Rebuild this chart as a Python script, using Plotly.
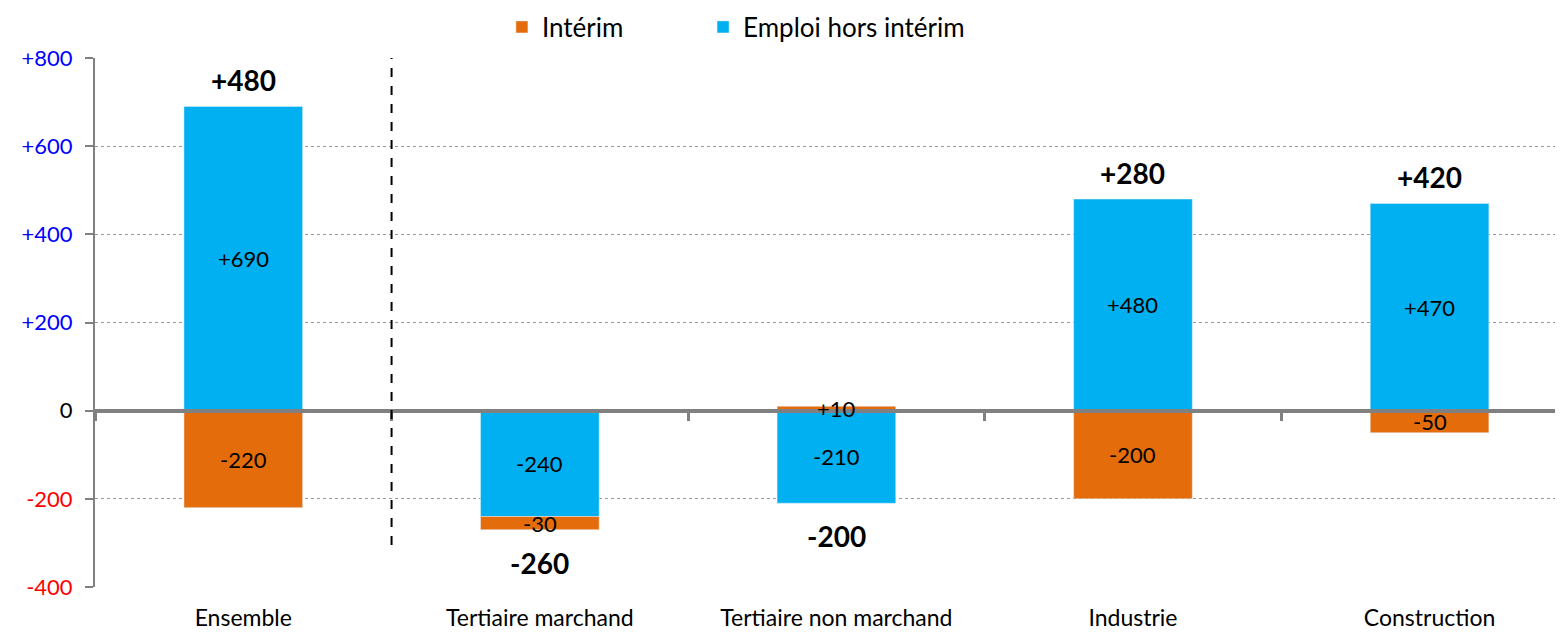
import plotly.graph_objects as go

categories = ["Ensemble", "Tertiaire marchand", "Tertiaire non marchand", "Industrie", "Construction"]
interim = [-220, -30, 10, -200, -50]
hors_interim = [690, -240, -210, 480, 470]
totals = [480, -260, -200, 280, 420]
y_ticks = [-400, -200, 0, 200, 400, 600, 800]

FONT = "Lato"
ORANGE = "#E46C0A"
BLUE = "#00B0F0"
GREY = "#808080"


def fmt(v):
    return f"{v:+d}" if v != 0 else "0"


def tick_txt(v):
    if v > 0:
        return f'<span style="color:#0000FF">{fmt(v)}</span>'
    if v < 0:
        return f'<span style="color:#FF0000">{v}</span>'
    return "0"


x = list(range(len(categories)))

fig = go.Figure()
# hors interim first so negatives stack next to zero
fig.add_trace(go.Bar(x=x, y=hors_interim, name="Emploi hors intérim", marker_color=BLUE,
                     width=0.4, legend="legend2"))
fig.add_trace(go.Bar(x=x, y=interim, name="Intérim", marker_color=ORANGE,
                     width=0.4, legend="legend"))
# empty trace so the zero-level axis (x2) gets drawn
fig.add_trace(go.Scatter(x=[None], y=[None], xaxis="x2", showlegend=False, hoverinfo="skip"))

lab_font = dict(family=FONT, size=22, color="black")
tot_font = dict(family=FONT, size=28, color="black")
for i in x:
    h, it = hors_interim[i], interim[i]
    # segment labels (as annotations so they sit above the zero line)
    fig.add_annotation(x=i, y=h / 2, text=fmt(h), showarrow=False, font=lab_font)
    base = h if (h < 0) == (it < 0) else 0
    fig.add_annotation(x=i, y=base + it / 2, text=fmt(it), showarrow=False, font=lab_font)
    # totals above / below stacks
    pos = sum(v for v in (h, it) if v > 0)
    neg = sum(v for v in (h, it) if v < 0)
    t = totals[i]
    if t > 0:
        fig.add_annotation(x=i, y=pos, text=f"<b>{fmt(t)}</b>", showarrow=False,
                           yanchor="bottom", yshift=7, font=tot_font)
    else:
        fig.add_annotation(x=i, y=neg, text=f"<b>{fmt(t)}</b>", showarrow=False,
                           yanchor="top", yshift=-14, font=tot_font)

# dashed separator
fig.add_shape(type="line", x0=0.5, x1=0.5, y0=-305, y1=852, xref="x", yref="y",
              line=dict(color="black", width=2, dash="dash"))

leg = dict(orientation="h", xanchor="left", y=1.0586, yanchor="middle",
           font=dict(family=FONT, size=26), itemwidth=30, bgcolor="rgba(0,0,0,0)")

# page body adds an 8px offset, so the figure is 8px smaller than the window
fig.update_layout(
    width=1555, height=624,
    barmode="relative",
    plot_bgcolor="white", paper_bgcolor="white",
    margin=dict(l=87, r=0, t=50, b=45, autoexpand=False),
    font=dict(family=FONT, size=22, color="black"),
    showlegend=True,
    legend=dict(leg, x=0.2772),
    legend2=dict(leg, x=0.4142),
    xaxis=dict(range=[-0.5, 4.45], tickvals=x, ticktext=categories,
               showgrid=False, zeroline=False, showline=False, ticks="",
               ticklabelstandoff=15, tickfont=dict(family=FONT, size=23)),
    xaxis2=dict(range=[-0.5, 4.45], overlaying="x", anchor="free", position=1 / 3,
                side="bottom", showline=True, linecolor=GREY, linewidth=4,
                ticks="outside", tickvals=[-0.5, 0.5, 1.5, 2.5, 3.5],
                ticklen=8, tickwidth=3, tickcolor=GREY, showticklabels=False,
                showgrid=False, zeroline=False),
    yaxis=dict(range=[-400, 800], tickvals=y_ticks, ticktext=[tick_txt(v) for v in y_ticks],
               showgrid=True, gridcolor="#999999", gridwidth=1, griddash="dot",
               zeroline=True, zerolinecolor=GREY, zerolinewidth=4,
               showline=True, linecolor=GREY, linewidth=2,
               ticks="outside", ticklen=8, tickcolor=GREY, tickwidth=2,
               ticklabelstandoff=8, tickfont=dict(family=FONT, size=22)),
)

fig.write_html("out.html")
